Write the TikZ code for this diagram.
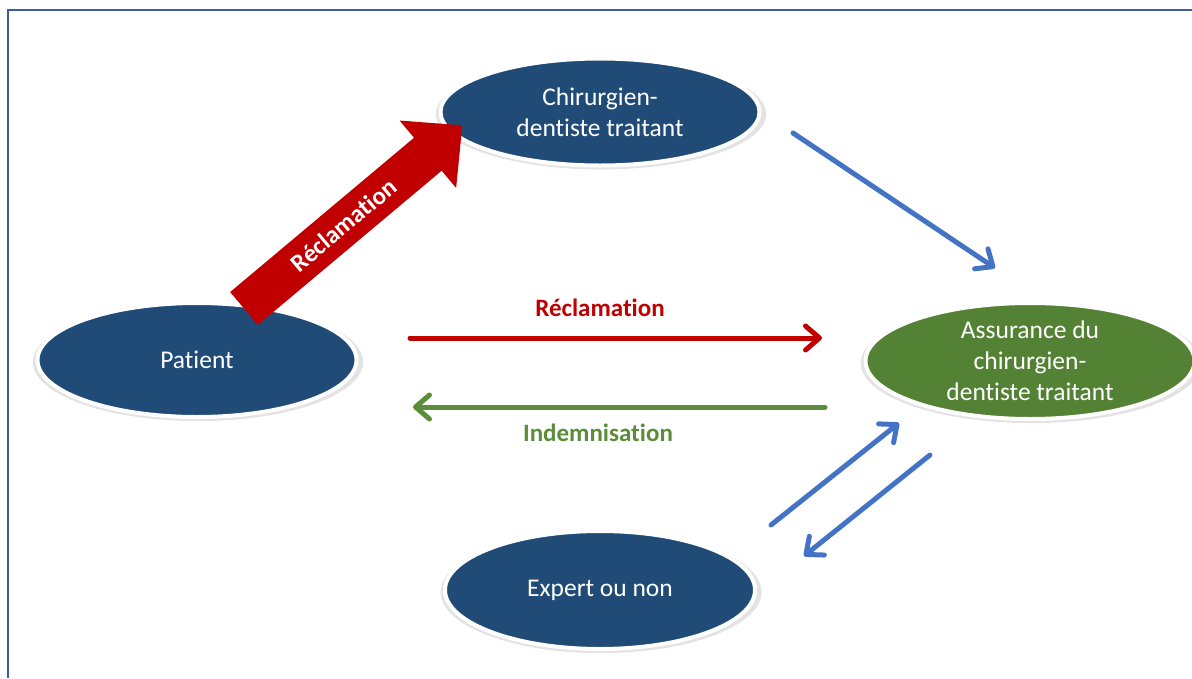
\documentclass[tikz,border=0pt]{standalone}
\usepackage{fontspec}
\setmainfont{Carlito}[Ligatures={NoCommon,NoRare,NoContextual}]
\usetikzlibrary{shapes.geometric,shadows,arrows.meta}

\definecolor{bubbleblue}{RGB}{31,75,118}
\definecolor{bubblegreen}{RGB}{84,130,53}
\definecolor{arrred}{RGB}{192,0,0}
\definecolor{arrgreen}{RGB}{90,140,58}
\definecolor{arrblue}{RGB}{68,114,196}
\definecolor{framec}{RGB}{58,92,158}

\begin{document}
\begin{tikzpicture}[x=1pt, y=-1pt,
  bubble/.style={ellipse, draw=white, line width=4pt, fill=bubbleblue, text=white,
    inner sep=0pt, align=center, font=\fontsize{25.5}{31}\selectfont,
    drop shadow={shadow xshift=1pt, shadow yshift=-2pt, shadow scale=1.035, opacity=0.22}},
  flow/.style={line width=5pt, line cap=round,
    -{Straight Barb[length=14pt, width=24pt, line cap=round, line join=round]}},
  lbl/.style={font=\fontsize{25}{30}\selectfont\bfseries}]
\useasboundingbox (0,0) rectangle (1192,678);

% frame
\draw[framec, line width=2.5pt] (8,678) -- (8,10) -- (1192,10);

% ellipses
\node[bubble, minimum width=319, minimum height=107] (dent) at (600,112) {Chirurgien-\\dentiste traitant};
\node[bubble, minimum width=319, minimum height=114] (pat) at (197,360) {Patient};
\node[bubble, minimum width=329, minimum height=116, fill=bubblegreen] (assur) at (1030,361) {Assurance du\\chirurgien-\\dentiste traitant};
\node[bubble, minimum width=310, minimum height=118] (exp) at (600,590) {Expert ou non};

% big arrow patient -> dentiste
\begin{scope}[shift={(244,308.5)}, rotate=40]
  \fill[arrred] (0,-21.5) -- (240,-21.5) -- (240,-44) -- (285,0) -- (240,44) -- (240,21.5) -- (0,21.5) -- cycle;
  \node[lbl, text=white, rotate=40] (recl1) at (130,0) {Réclamation};
\end{scope}

% free ends of the thin arrows
\coordinate (d1) at (793,133);
\coordinate (d2) at (995,268);
\coordinate (r1) at (410,338);
\coordinate (r2) at (822,338);
\coordinate (g1) at (825,407);
\coordinate (g2) at (413,407);
\coordinate (e1) at (771,525);
\coordinate (e2) at (899,423);
\coordinate (a1) at (930,455);
\coordinate (a2) at (804,556);

\draw[flow, arrblue] (d1) -- (d2);
\draw[flow, arrred] (r1) -- (r2);
\draw[flow, arrgreen] (g1) -- (g2);
\draw[flow, arrblue] (e1) -- (e2);
\draw[flow, arrblue] (a1) -- (a2);

% labels
\node[lbl, text=arrred] (recl2) at (600,308) {Réclamation};
\node[lbl, text=arrgreen] (indem) at (598,433) {Indemnisation};
\end{tikzpicture}
\end{document}
